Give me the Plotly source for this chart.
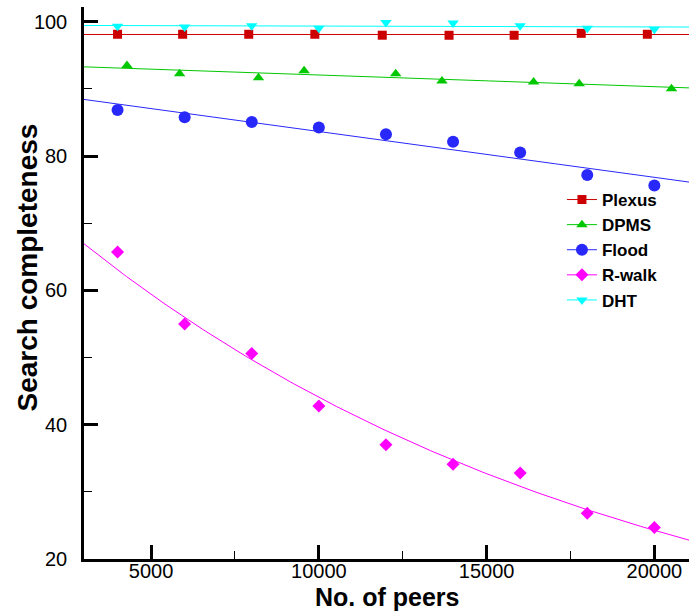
import numpy as np
import plotly.graph_objects as go

# ---- data ----
plexus_x = [4000, 5940, 7910, 9880, 11890, 13880, 15820, 17820, 19790]
plexus_y = [98.14, 98.14, 98.14, 98.14, 98.0, 97.99, 97.99, 98.28, 98.14]

dpms_x = [4280, 5850, 8200, 9560, 12290, 13670, 16400, 17760, 20510]
dpms_y = [93.49, 92.26, 91.67, 92.72, 92.26, 91.18, 91.04, 90.78, 90.04]

flood_x = [4000, 6000, 8000, 10000, 12000, 14000, 16000, 18000, 20000]
flood_y = [86.85, 85.77, 85.07, 84.25, 83.25, 82.12, 80.55, 77.19, 75.61]

rwalk_x = [4000, 6000, 8000, 10000, 12000, 14000, 16000, 18000, 20000]
rwalk_y = [65.7, 55.0, 50.6, 42.8, 37.0, 34.1, 32.8, 26.8, 24.7]

dht_x = [4000, 6000, 8000, 10000, 12000, 14000, 16000, 18000, 20000]
dht_y = [99.32, 99.22, 99.41, 99.02, 99.91, 99.81, 99.41, 99.02, 98.88]

series_names = ["Plexus", "DPMS", "Flood", "R-walk", "DHT"]
x_tick_step = 5000
y_tick_step = 20
x_range = [3000, 21032]
y_range = [20, 102.2]

styles = {
    "Plexus": dict(color="rgb(204,0,0)", symbol="square", size=9),
    "DPMS": dict(color="rgb(0,200,0)", symbol="triangle-up", size=10),
    "Flood": dict(color="rgb(40,40,250)", symbol="circle", size=12),
    "R-walk": dict(color="rgb(255,0,255)", symbol="diamond", size=10),
    "DHT": dict(color="rgb(0,255,255)", symbol="triangle-down", size=10),
}
data = {
    "Plexus": (plexus_x, plexus_y, "lin"),
    "DPMS": (dpms_x, dpms_y, "lin"),
    "Flood": (flood_x, flood_y, "lin"),
    "R-walk": (rwalk_x, rwalk_y, "exp"),
    "DHT": (dht_x, dht_y, "lin"),
}

fig = go.Figure()
xf = np.linspace(x_range[0], x_range[1], 200)

# trend lines (least-squares fits of the data)
for name in series_names:
    xs, ys, kind = data[name]
    xs_a, ys_a = np.array(xs, float), np.array(ys, float)
    if kind == "lin":
        c = np.polyfit(xs_a, ys_a, 1)
        yf = np.polyval(c, xf)
    else:
        c = np.polyfit(xs_a, np.log(ys_a), 1)
        yf = np.exp(np.polyval(c, xf))
    fig.add_trace(go.Scatter(x=xf, y=yf, mode="lines", showlegend=False,
                             line=dict(color=styles[name]["color"], width=1),
                             hoverinfo="skip"))

# markers (isolated points, so the legend shows line + marker)
for name in series_names:
    xs, ys, _ = data[name]
    gx, gy = [], []
    for a, b in zip(xs, ys):
        gx += [a, None]
        gy += [b, None]
    st = styles[name]
    fig.add_trace(go.Scatter(
        x=gx, y=gy, mode="lines+markers", name=name, connectgaps=False,
        line=dict(color=st["color"], width=1),
        marker=dict(color=st["color"], symbol=st["symbol"], size=st["size"],
                    line=dict(width=0)),
    ))

font_family = "Liberation Sans, Arial, sans-serif"
axis_common = dict(
    showline=True, linecolor="black", linewidth=2.5,
    ticks="inside", ticklen=14, tickwidth=3, tickcolor="black",
    showgrid=False, zeroline=False, mirror=False,
    tickfont=dict(size=20, family=font_family, color="black"),
)
fig.update_layout(
    width=689, height=613,
    margin=dict(l=84, r=0, t=7, b=54),
    paper_bgcolor="white", plot_bgcolor="white",
    font=dict(family=font_family, color="black", size=20),
    showlegend=True,
    legend=dict(x=0.79, y=0.683, xanchor="left", yanchor="top",
                bgcolor="rgba(0,0,0,0)", borderwidth=0,
                font=dict(family=font_family, size=17, color="black", weight="bold")),
    xaxis=dict(
        range=x_range, tickmode="linear", tick0=0, dtick=x_tick_step, tickformat="d",
        ticklabelstandoff=-8,
        minor=dict(dtick=x_tick_step / 2, tick0=0, ticks="inside", ticklen=8,
                   tickwidth=1, tickcolor="black", showgrid=False),
        **axis_common,
    ),
    yaxis=dict(
        range=y_range, tickmode="linear", tick0=0, dtick=y_tick_step,
        ticklabelstandoff=10,
        minor=dict(dtick=y_tick_step / 2, tick0=0, ticks="inside", ticklen=8,
                   tickwidth=1, tickcolor="black", showgrid=False),
        **axis_common,
    ),
    annotations=[
        dict(text="Search completeness", textangle=-90,
             xref="paper", yref="paper", x=-0.0926, y=0.528,
             xanchor="center", yanchor="middle", showarrow=False,
             font=dict(size=28, family=font_family, weight="bold", color="black")),
        dict(text="No. of peers",
             xref="paper", yref="paper", x=0.501, y=-0.0683,
             xanchor="center", yanchor="middle", showarrow=False,
             font=dict(size=25, family=font_family, weight="bold", color="black")),
    ],
)

fig.write_html("out.html")
